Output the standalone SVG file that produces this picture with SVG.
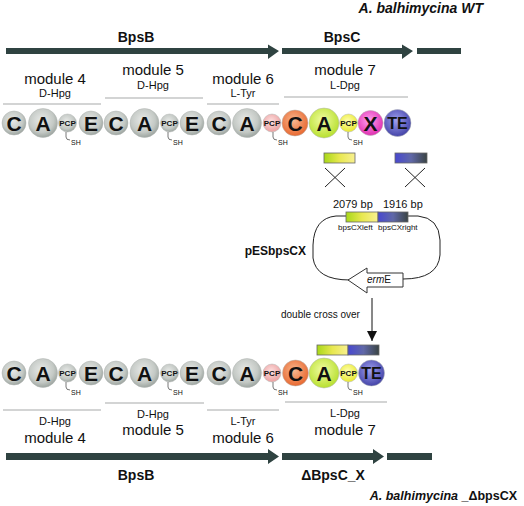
<svg xmlns="http://www.w3.org/2000/svg" width="524" height="506" viewBox="0 0 524 506">
<defs>
<radialGradient id="gGray" cx="45%" cy="40%" r="60%"><stop offset="0" stop-color="#e8eae8"/><stop offset="0.7" stop-color="#c4c9c5"/><stop offset="1" stop-color="#9da5a0"/></radialGradient>
<radialGradient id="gPink" cx="45%" cy="40%" r="60%"><stop offset="0" stop-color="#fde0e0"/><stop offset="1" stop-color="#eca0a0"/></radialGradient>
<radialGradient id="gOrange" cx="45%" cy="40%" r="60%"><stop offset="0" stop-color="#f8b890"/><stop offset="1" stop-color="#e86830"/></radialGradient>
<radialGradient id="gGreen" cx="45%" cy="40%" r="60%"><stop offset="0" stop-color="#f0fca0"/><stop offset="1" stop-color="#b8e030"/></radialGradient>
<radialGradient id="gYellow" cx="45%" cy="40%" r="60%"><stop offset="0" stop-color="#ffffb0"/><stop offset="1" stop-color="#e8e830"/></radialGradient>
<radialGradient id="gMag" cx="45%" cy="40%" r="60%"><stop offset="0" stop-color="#ffa0f0"/><stop offset="1" stop-color="#e030b0"/></radialGradient>
<radialGradient id="gBlue" cx="45%" cy="40%" r="60%"><stop offset="0" stop-color="#a0a0f0"/><stop offset="1" stop-color="#4444a8"/></radialGradient>
<linearGradient id="gLeft" x1="0" y1="0" x2="1" y2="0"><stop offset="0" stop-color="#a8d818"/><stop offset="0.5" stop-color="#e8e850"/><stop offset="1" stop-color="#f8f090"/></linearGradient>
<linearGradient id="gRight" x1="0" y1="0" x2="1" y2="0"><stop offset="0" stop-color="#4848d0"/><stop offset="0.5" stop-color="#6068a8"/><stop offset="1" stop-color="#3a4444"/></linearGradient>
<marker id="arr" markerWidth="10" markerHeight="10" refX="10" refY="5" orient="auto" markerUnits="userSpaceOnUse" viewBox="0 0 10 10"><polygon points="0,0 10,5 0,10" fill="#111"/></marker>
</defs>
<style>
text{font-family:"Liberation Sans",Arial,sans-serif;fill:#111}
.b{font-weight:bold}
.t{font-size:14px;font-weight:bold}
.m{font-size:15px;text-anchor:middle}
.aa{font-size:11px;text-anchor:middle}
.dl{font-size:21px;font-weight:bold;text-anchor:middle}
.te{font-size:16px}
.pcp{font-size:8px;font-weight:bold;text-anchor:middle}
.sh{font-size:7px}
.ln{stroke:#a8aaaa;stroke-width:1.2}
.gene{fill:#2f4341}
.dom{stroke:#b0b4b2;stroke-width:0.5}
.hook{fill:none;stroke:#555;stroke-width:0.8}
.bar{stroke:#666;stroke-width:0.8}
.cx{stroke:#222;stroke-width:1}
</style>

<g id="titles">
<text x="483" y="13" class="b" font-size="14" font-style="italic" text-anchor="end">A. balhimycina WT</text>
<text x="517" y="500" class="b" font-size="12.5" text-anchor="end"><tspan font-style="italic">A. balhimycina</tspan> _ΔbpsCX</text>
</g>

<g id="genes-wt">
<polygon class="gene" points="6,48 268,48 268,44.5 279,51 268,59 268,54 6,54"/>
<polygon class="gene" points="282,48 402,48 402,44.5 413,51 402,59 402,54 282,54"/>
<rect class="gene" x="417" y="48" width="44" height="6"/>
<text x="136" y="42" class="t" text-anchor="middle">BpsB</text>
<text x="342" y="42" class="t" text-anchor="middle">BpsC</text>
</g>

<g id="modules-wt">
<text x="55" y="84" class="m">module 4</text>
<text x="55" y="97" class="aa">D-Hpg</text>
<line class="ln" x1="3" y1="104" x2="101" y2="104"/>
<text x="153" y="75" class="m">module 5</text>
<text x="153" y="89" class="aa">D-Hpg</text>
<line class="ln" x1="105" y1="98" x2="203" y2="98"/>
<text x="243" y="84" class="m">module 6</text>
<text x="243" y="97" class="aa">L-Tyr</text>
<line class="ln" x1="207" y1="104" x2="279" y2="104"/>
<text x="345" y="75" class="m">module 7</text>
<text x="345" y="89" class="aa">L-Dpg</text>
<line class="ln" x1="284" y1="97" x2="408" y2="97"/>
</g>

<g id="domains-wt">
<circle class="dom" cx="14" cy="123" r="12" fill="url(#gGray)"/><text x="14" y="130.5" class="dl">C</text>
<circle class="dom" cx="43" cy="123" r="14.5" fill="url(#gGray)"/><text x="43" y="130.5" class="dl">A</text>
<circle class="dom" cx="67.5" cy="123" r="9" fill="url(#gGray)"/><text x="67.5" y="126" class="pcp">PCP</text>
<path class="hook" d="M66,132 L66,137 Q66,140 70,140"/><text x="71" y="145" class="sh">SH</text>
<circle class="dom" cx="91" cy="123" r="12" fill="url(#gGray)"/><text x="91" y="130.5" class="dl">E</text>
<circle class="dom" cx="116" cy="123" r="12" fill="url(#gGray)"/><text x="116" y="130.5" class="dl">C</text>
<circle class="dom" cx="144.5" cy="123" r="14.5" fill="url(#gGray)"/><text x="144.5" y="130.5" class="dl">A</text>
<circle class="dom" cx="169.5" cy="123" r="9" fill="url(#gGray)"/><text x="169.5" y="126" class="pcp">PCP</text>
<path class="hook" d="M168,132 L168,137 Q168,140 172,140"/><text x="173" y="145" class="sh">SH</text>
<circle class="dom" cx="192" cy="123" r="12" fill="url(#gGray)"/><text x="192" y="130.5" class="dl">E</text>
<circle class="dom" cx="219" cy="123" r="12" fill="url(#gGray)"/><text x="219" y="130.5" class="dl">C</text>
<circle class="dom" cx="247" cy="123" r="14.5" fill="url(#gGray)"/><text x="247" y="130.5" class="dl">A</text>
<circle class="dom" cx="272" cy="123" r="9" fill="url(#gPink)"/><text x="272" y="126" class="pcp">PCP</text>
<path class="hook" d="M273,132 L273,137 Q273,140 277,140"/><text x="278" y="145" class="sh">SH</text>
<circle class="dom" cx="295" cy="123" r="13" fill="url(#gOrange)"/><text x="295" y="130.5" class="dl">C</text>
<circle class="dom" cx="324" cy="123" r="15" fill="url(#gGreen)"/><text x="324" y="130.5" class="dl">A</text>
<circle class="dom" cx="348.5" cy="123" r="9" fill="url(#gYellow)"/><text x="348.5" y="126" class="pcp">PCP</text>
<path class="hook" d="M348,132 L348,137 Q348,140 352,140"/><text x="353" y="145" class="sh">SH</text>
<circle class="dom" cx="370.5" cy="123" r="12.5" fill="url(#gMag)"/><text x="370.5" y="130.5" class="dl">X</text>
<circle class="dom" cx="397.5" cy="123" r="13.5" fill="url(#gBlue)"/><text x="397.5" y="129" class="dl te">TE</text>
</g>

<g id="fragments">
<rect class="bar" x="324" y="153" width="31" height="10" fill="url(#gLeft)"/>
<rect class="bar" x="395" y="153" width="32" height="10" fill="url(#gRight)"/>
<line class="cx" x1="325" y1="168" x2="345" y2="187"/><line class="cx" x1="345" y1="168" x2="325" y2="187"/>
<line class="cx" x1="405" y1="168" x2="425" y2="187"/><line class="cx" x1="425" y1="168" x2="405" y2="187"/>
</g>

<g id="plasmid">
<path fill="none" stroke="#222" stroke-width="1" d="M346,216 L336,216 Q314,218 313,245 L313,258 Q316,280 350,280"/>
<path fill="none" stroke="#222" stroke-width="1" d="M408,216 L418,216 Q439,218 440,240 L440,255 Q438,279 403,279"/>
<rect class="bar" x="346" y="212" width="32" height="10" fill="url(#gLeft)"/>
<rect class="bar" x="378" y="212" width="30" height="10" fill="url(#gRight)"/>
<text x="333" y="208" font-size="11">2079 bp</text>
<text x="383" y="208" font-size="11">1916 bp</text>
<text x="338" y="230" font-size="8">bpsCXleft</text>
<text x="378" y="230" font-size="8">bpsCXright</text>
<polygon points="348,280 367,268 367,273 403,273 403,287 367,287 367,293" fill="#fff" stroke="#333" stroke-width="1"/>
<text x="367" y="283" font-size="10"><tspan font-style="italic">erm</tspan>E</text>
<text x="306" y="255" class="b" font-size="12" text-anchor="end">pESbpsCX</text>
</g>

<g id="connectors">
<line x1="372" y1="298" x2="372" y2="341" stroke="#111" stroke-width="1" marker-end="url(#arr)"/>
<text x="281" y="318" font-size="10">double cross over</text>
</g>

<g id="integrated-fragment">
<rect class="bar" x="317" y="345" width="31" height="10" fill="url(#gLeft)"/>
<rect class="bar" x="348" y="345" width="31" height="10" fill="url(#gRight)"/>
</g>

<g id="domains-mut">
<circle class="dom" cx="14" cy="373" r="12" fill="url(#gGray)"/><text x="14" y="380.5" class="dl">C</text>
<circle class="dom" cx="43" cy="373" r="14.5" fill="url(#gGray)"/><text x="43" y="380.5" class="dl">A</text>
<circle class="dom" cx="67.5" cy="373" r="9" fill="url(#gGray)"/><text x="67.5" y="376" class="pcp">PCP</text>
<path class="hook" d="M66,382 L66,387 Q66,390 70,390"/><text x="71" y="395" class="sh">SH</text>
<circle class="dom" cx="91" cy="373" r="12" fill="url(#gGray)"/><text x="91" y="380.5" class="dl">E</text>
<circle class="dom" cx="116" cy="373" r="12" fill="url(#gGray)"/><text x="116" y="380.5" class="dl">C</text>
<circle class="dom" cx="144.5" cy="373" r="14.5" fill="url(#gGray)"/><text x="144.5" y="380.5" class="dl">A</text>
<circle class="dom" cx="169.5" cy="373" r="9" fill="url(#gGray)"/><text x="169.5" y="376" class="pcp">PCP</text>
<path class="hook" d="M168,382 L168,387 Q168,390 172,390"/><text x="173" y="395" class="sh">SH</text>
<circle class="dom" cx="192" cy="373" r="12" fill="url(#gGray)"/><text x="192" y="380.5" class="dl">E</text>
<circle class="dom" cx="219" cy="373" r="12" fill="url(#gGray)"/><text x="219" y="380.5" class="dl">C</text>
<circle class="dom" cx="247" cy="373" r="14.5" fill="url(#gGray)"/><text x="247" y="380.5" class="dl">A</text>
<circle class="dom" cx="272" cy="373" r="9" fill="url(#gPink)"/><text x="272" y="376" class="pcp">PCP</text>
<path class="hook" d="M273,382 L273,387 Q273,390 277,390"/><text x="278" y="395" class="sh">SH</text>
<circle class="dom" cx="295.5" cy="373" r="13" fill="url(#gOrange)"/><text x="295.5" y="380.5" class="dl">C</text>
<circle class="dom" cx="324" cy="373" r="15" fill="url(#gGreen)"/><text x="324" y="380.5" class="dl">A</text>
<circle class="dom" cx="348.5" cy="373" r="9" fill="url(#gYellow)"/><text x="348.5" y="376" class="pcp">PCP</text>
<path class="hook" d="M348,382 L348,387 Q348,390 352,390"/><text x="353" y="395" class="sh">SH</text>
<circle class="dom" cx="371.5" cy="373" r="13" fill="url(#gBlue)"/><text x="371.5" y="379" class="dl te">TE</text>
</g>

<g id="modules-mut">
<line class="ln" x1="3" y1="410" x2="101" y2="410"/>
<text x="55" y="425" class="aa">D-Hpg</text>
<text x="55" y="443" class="m">module 4</text>
<line class="ln" x1="105" y1="403" x2="204" y2="403"/>
<text x="153" y="418" class="aa">D-Hpg</text>
<text x="153" y="435" class="m">module 5</text>
<line class="ln" x1="207" y1="410" x2="279" y2="410"/>
<text x="243" y="425" class="aa">L-Tyr</text>
<text x="243" y="443" class="m">module 6</text>
<line class="ln" x1="285" y1="402" x2="387" y2="402" stroke="#b0b8c8"/>
<text x="345" y="417" class="aa">L-Dpg</text>
<text x="345" y="435" class="m">module 7</text>
</g>

<g id="genes-mut">
<polygon class="gene" points="6,453 268,453 268,449 279,456.5 268,464 268,460 6,460"/>
<polygon class="gene" points="282,453 373,453 373,449 384,456.5 373,464 373,460 282,460"/>
<rect class="gene" x="387" y="453" width="45" height="7"/>
<text x="136" y="480" class="t" text-anchor="middle">BpsB</text>
<text x="333" y="480" class="t" text-anchor="middle">ΔBpsC_X</text>
</g>
</svg>
